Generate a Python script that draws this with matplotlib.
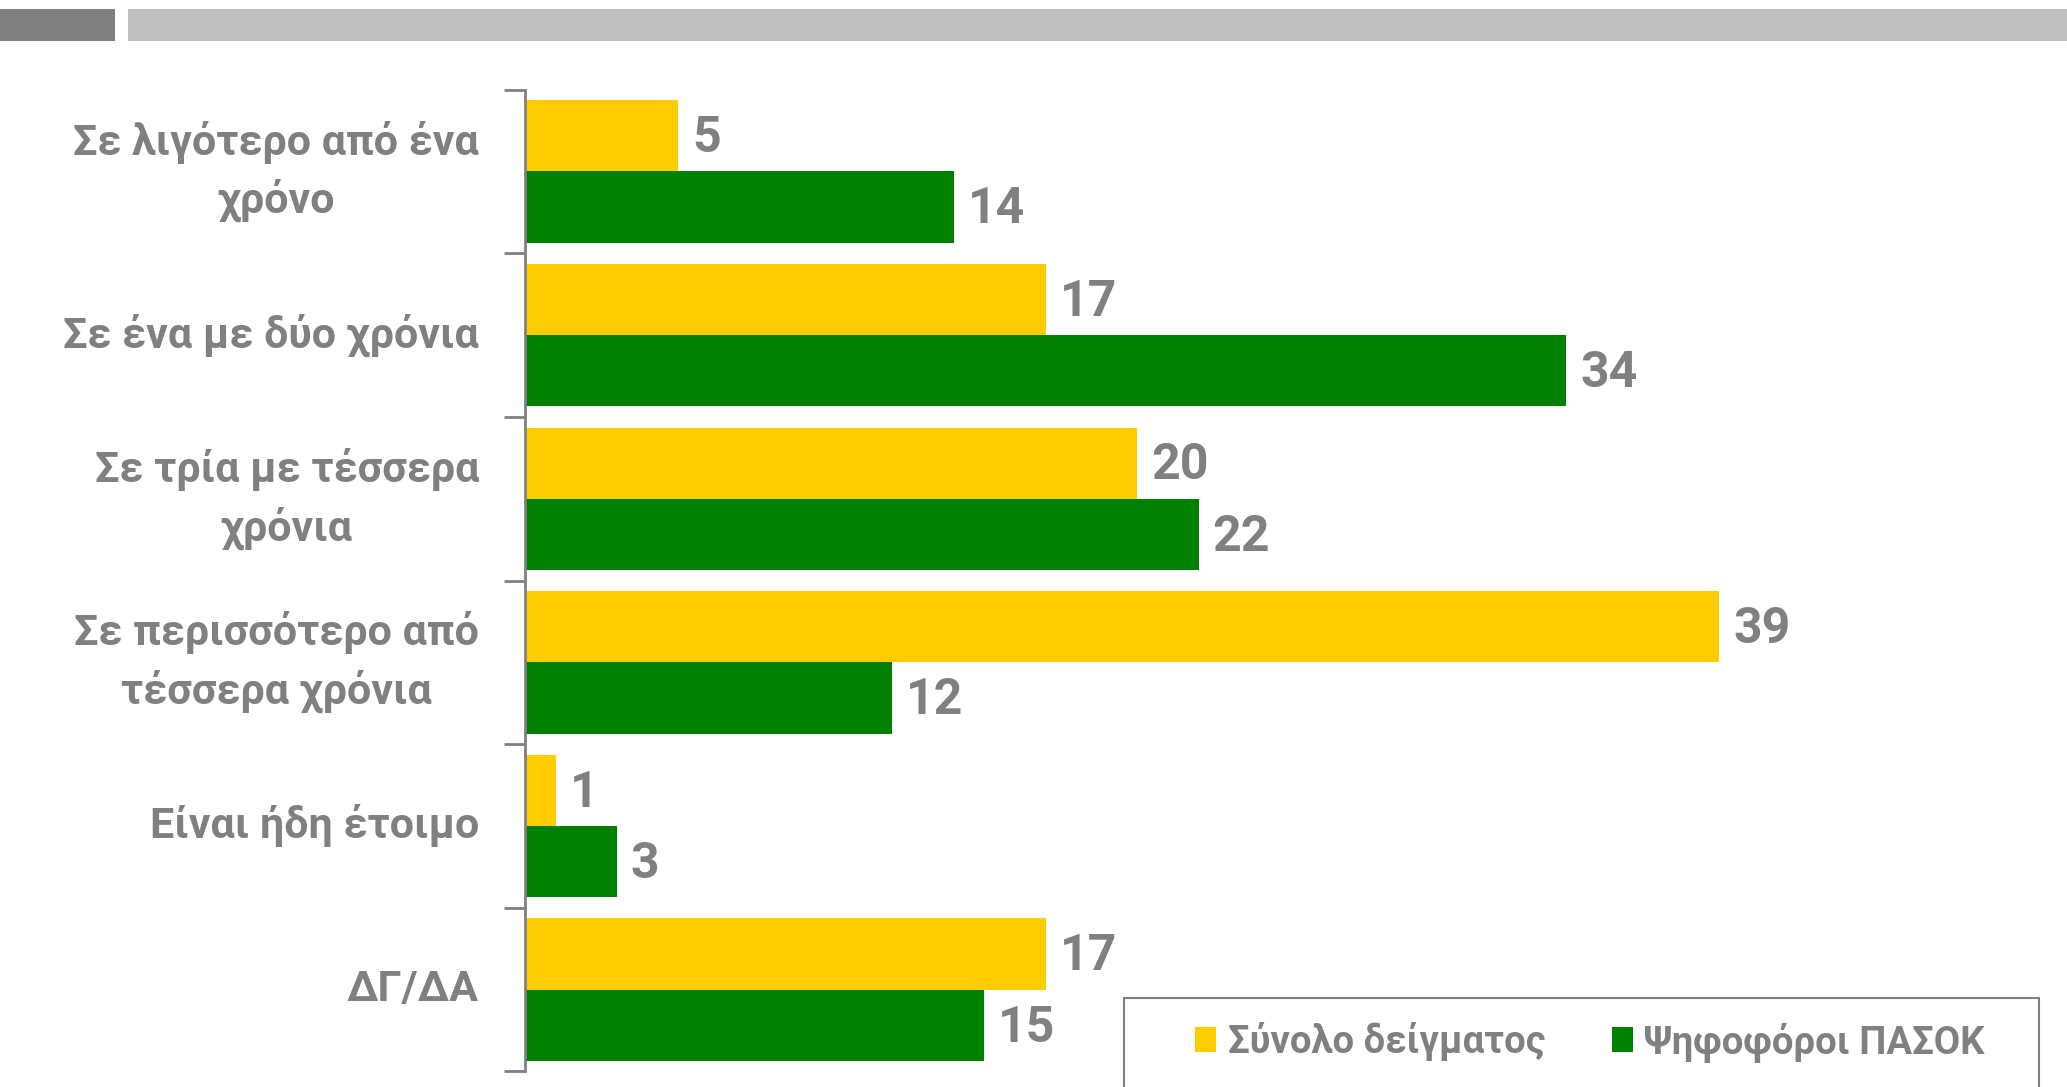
import numpy as np
import matplotlib
matplotlib.use("Agg")
import matplotlib.pyplot as plt
import matplotlib.transforms as mtransforms
from matplotlib.patches import Rectangle

plt.rcParams['font.family'] = ['Roboto', 'DejaVu Sans']

categories = ["Σε λιγότερο από ένα\nχρόνο",
              "Σε ένα με δύο χρόνια",
              "Σε τρία με τέσσερα\nχρόνια",
              "Σε περισσότερο από\nτέσσερα χρόνια",
              "Είναι ήδη έτοιμο",
              "ΔΓ/ΔΑ"]
total = [5, 17, 20, 39, 1, 17]
pasok = [14, 34, 22, 12, 3, 15]
series_names = ["Σύνολο δείγματος", "Ψηφοφόροι ΠΑΣΟΚ"]

GRAY = "#808080"
YELLOW = "#FFCC00"
GREEN = "#008000"

fig = plt.figure(figsize=(20.67, 10.87), dpi=100)
ax = fig.add_axes([0.254, 0.0143, 0.7407, 0.9033])

# header strips
fig.add_artist(Rectangle((0, 1 - 41 / 1087), 115 / 2067, 32 / 1087,
                         transform=fig.transFigure, color="#808080", lw=0))
fig.add_artist(Rectangle((128 / 2067, 1 - 41 / 1087), 1, 32 / 1087,
                         transform=fig.transFigure, color="#BFBFBF", lw=0))

y = np.arange(len(categories))
h = 0.435
b1 = ax.barh(y - h / 2, total, height=h, color=YELLOW, label=series_names[0])
b2 = ax.barh(y + h / 2, pasok, height=h, color=GREEN, label=series_names[1])

for bars in (b1, b2):
    for rect in bars:
        val = rect.get_width()
        ax.annotate(f"{val:g}", (val, rect.get_y() + rect.get_height() / 2),
                    xytext=(10, -2), textcoords="offset points",
                    ha="left", va="center", fontsize=36, fontweight="bold",
                    color=GRAY)

ax.set_xlim(0, 50)
ax.set_ylim(len(categories) - 0.5, -0.5)

# category labels, centred lines, right edge a little left of the spine
lab_tr = mtransforms.blended_transform_factory(ax.transAxes, ax.transData)
lab_tr = lab_tr + mtransforms.ScaledTranslation(-46 / 100, 0, fig.dpi_scale_trans)
for yi, name in zip(y, categories):
    ax.text(0, yi, name, transform=lab_tr, ha="right", va="center",
            multialignment="center", linespacing=1.45,
            fontsize=31, fontweight="bold", color=GRAY)

ax.set_yticks([])
ax.set_yticks(np.arange(len(categories) + 1) - 0.5, minor=True)
ax.tick_params(axis="y", which="minor", length=15, width=2, color=GRAY)

ax.xaxis.set_visible(False)
for s in ("top", "right", "bottom"):
    ax.spines[s].set_visible(False)
ax.spines["left"].set_color(GRAY)
ax.spines["left"].set_linewidth(2)

# legend box (runs off the bottom edge like the original)
fig.add_artist(Rectangle((1124 / 2067, -10 / 1087), 915 / 2067, 99 / 1087,
                         transform=fig.transFigure, facecolor="white",
                         edgecolor=GRAY, lw=1.5))
handles, labels = ax.get_legend_handles_labels()
leg = fig.legend(handles, labels, loc="center",
                 bbox_to_anchor=(1590 / 2067, 1 - 1042 / 1087),
                 ncol=2, prop={"size": 27.5, "weight": "bold"}, frameon=False,
                 handlelength=0.55, handleheight=0.6, handletextpad=0.3,
                 columnspacing=1.75, borderaxespad=0)
leg.set_zorder(10)
for t in leg.get_texts():
    t.set_color(GRAY)

fig.savefig("out.png", dpi=100)
